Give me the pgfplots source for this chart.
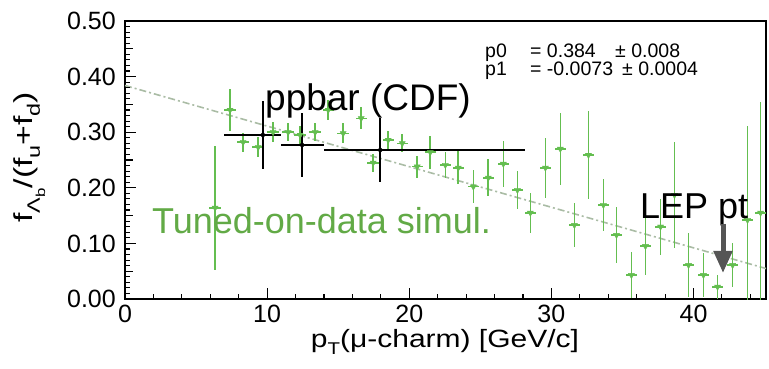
\documentclass[border=0pt]{standalone}
\usepackage{fontspec}
\setmainfont{Liberation Sans}
\usepackage{pgfplots}
\pgfplotsset{compat=1.18}
\usetikzlibrary{arrows.meta}
\definecolor{simgreen}{RGB}{100,190,80}
\definecolor{txtgreen}{RGB}{98,170,70}
\definecolor{fitgray}{RGB}{170,188,165}
\definecolor{arrowgray}{RGB}{85,85,85}
\newcommand{\px}[2]{({(#1-125)*1bp},{(299-#2)*1bp})}
\pgfplotstableread{
x y e
6.34 0.164 0.112
7.39 0.340 0.038
8.31 0.282 0.017
9.37 0.273 0.018
10.42 0.300 0.018
11.48 0.300 0.016
12.32 0.295 0.016
13.38 0.300 0.016
14.30 0.340 0.018
15.35 0.298 0.018
16.62 0.325 0.020
17.46 0.245 0.016
18.52 0.286 0.017
19.51 0.280 0.016
20.56 0.238 0.020
21.48 0.264 0.030
22.54 0.241 0.024
23.45 0.236 0.030
24.51 0.202 0.030
25.56 0.218 0.033
26.62 0.243 0.042
27.61 0.196 0.035
28.52 0.155 0.036
29.58 0.236 0.054
30.63 0.270 0.065
31.62 0.133 0.040
32.61 0.259 0.080
33.66 0.169 0.046
34.58 0.115 0.050
35.63 0.043 0.042
36.62 0.095 0.052
37.68 0.130 0.050
38.66 0.187 0.095
39.65 0.061 0.058
40.70 0.043 0.040
41.69 0.022 0.022
42.75 0.061 0.040
43.80 0.142 0.170
44.72 0.155 0.200
}\simdata
\pgfplotstableread{
x y xp xm e
9.70 0.295 1.29 2.73 0.061
12.46 0.277 1.55 1.47 0.058
17.96 0.268 10.21 3.95 0.058
}\cdfdata
\begin{document}
\begin{tikzpicture}
\begin{axis}[
  scale only axis, width=641bp, height=278bp,
  at={(0,0)}, anchor=south west,
  xmin=0, xmax=45.1, ymin=0, ymax=0.5,
  axis line style={line width=1.3bp, black},
  tick pos=left, tick align=inside,
  xtick={0,10,20,30,40},
  ytick={0,0.1,0.2,0.3,0.4,0.5},
  major tick length=0pt, minor tick length=0pt,
  ticklabel style={font=\fontsize{25bp}{30bp}\selectfont},
  /pgf/number format/assume math mode=true,
  yticklabel style={/pgf/number format/fixed, /pgf/number format/fixed zerofill, /pgf/number format/precision=2, anchor=east, inner sep=0pt, xshift=-9bp},
  xticklabel style={anchor=north, inner sep=0pt, yshift=-6bp},
]
\addplot[fitgray, line width=1.6bp, dash pattern=on 7bp off 3bp on 2bp off 3bp] coordinates {(0,0.384) (45.1,0.0548)};
\addplot[simgreen, only marks, mark=triangle*, mark size=3.5bp,
  mark options={rotate=180, simgreen, solid},
  error bars/.cd, x dir=both, x fixed=0.4, y dir=both, y explicit,
  error bar style={line width=1.6bp, simgreen}, error mark=none]
  table[x=x, y=y, y error=e] {\simdata};
\addplot[black, only marks, mark=none,
  error bars/.cd, x dir=both, x explicit, y dir=both, y explicit,
  error bar style={line width=1.6bp, black, line cap=butt}, error mark=none]
  table[x=x, y=y, x error plus=xp, x error minus=xm, y error=e] {\cdfdata};
\end{axis}
% tick marks (axis decoration), drawn inward
\begin{scope}[black, line width=1.1bp]
\foreach \t in {2,4,6,8,12,14,16,18,22,24,26,28,32,34,36,38,42,44}
  \draw ({\t*14.2129*1bp},0) -- ++(0,5bp);
\foreach \t in {10,20,30,40}
  \draw ({\t*14.2129*1bp},0) -- ++(0,11bp);
\foreach \v in {1,...,49}
  \draw (0,{\v*5.56*1bp}) -- ++(5bp,0);
\foreach \v in {5,15,25,35,45}
  \draw (0,{\v*5.56*1bp}) -- ++(8bp,0);
\foreach \v in {10,20,30,40}
  \draw (0,{\v*5.56*1bp}) -- ++(11bp,0);
\end{scope}
% stats
\begin{scope}[every node/.style={anchor=base west, inner sep=0pt, font=\fontsize{19.5bp}{24bp}\selectfont}]
\node at \px{485}{57} {p0};
\node at \px{530}{57} {= 0.384};
\node at \px{615}{57} {± 0.008};
\node at \px{485}{75} {p1};
\node at \px{530}{75} {= -0.0073};
\node at \px{622}{75} {± 0.0004};
\end{scope}
% annotations
\node[anchor=base west, inner sep=0pt, text=txtgreen, font=\fontsize{36bp}{40bp}\selectfont] at \px{152}{233} {Tuned-on-data simul.};
\node[anchor=base west, inner sep=0pt, font=\fontsize{37bp}{40bp}\selectfont] at \px{265}{110} {ppbar (CDF)};
\node[anchor=base west, inner sep=0pt, font=\fontsize{36bp}{40bp}\selectfont] at \px{640}{218} {LEP pt};
\draw[arrowgray, line width=5bp, -{Triangle[width=18bp,length=22bp]}] \px{723}{224} -- \px{723}{273};
% axis labels
\node[anchor=base, inner sep=0pt, font=\fontsize{25bp}{30bp}\selectfont] at \px{445}{347}
  {\scalebox{1.2}[1]{p\raisebox{-0.3em}{\fontsize{17bp}{20bp}\selectfont T}(μ-charm) [GeV/c]}};
\node[anchor=base west, inner sep=0pt, rotate=90, font=\fontsize{26bp}{30bp}\selectfont] at \px{32}{223}
  {\scalebox{1.3}[1]{f\raisebox{-0.3em}{\fontsize{18bp}{20bp}\selectfont Λ\raisebox{-0.3em}{\fontsize{13bp}{15bp}\selectfont b}}/(f\raisebox{-0.3em}{\fontsize{18bp}{20bp}\selectfont u}+f\raisebox{-0.3em}{\fontsize{18bp}{20bp}\selectfont d})}};
\pgfresetboundingbox
\path[use as bounding box] (-125bp,-70bp) rectangle (644bp,299bp);
\end{tikzpicture}
\end{document}
